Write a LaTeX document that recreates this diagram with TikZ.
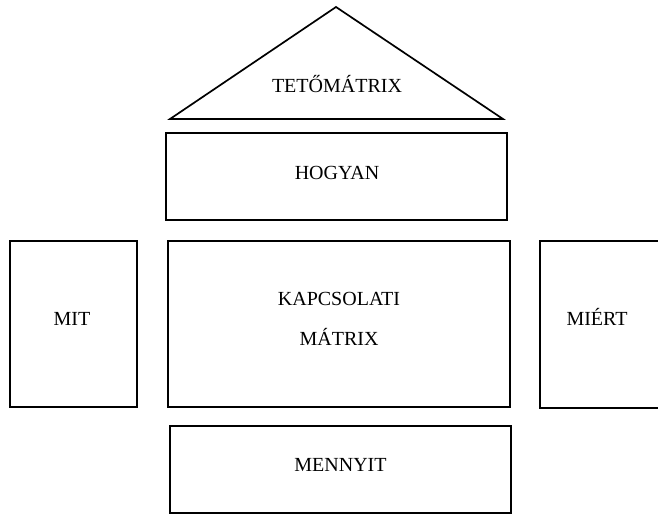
\documentclass[tikz,border=0pt]{standalone}
\usepackage{fontspec}
\setmainfont{Liberation Serif}
\tikzset{
    box/.style={draw, line width=1.7pt, inner sep=0pt},
    lbl/.style={font=\fontsize{20}{24}\selectfont, anchor=base, inner sep=0pt}
}
\begin{document}
\begin{tikzpicture}[x=1pt, y=-1pt]
            \clip (0,0) rectangle (658,515);
            \coordinate (T) at (336, 7);
            \coordinate (L) at (170, 119);
            \coordinate (R) at (503, 119);
            \draw[line width=1.7pt, line join=miter] (L) -- (T) -- (R) -- cycle;
            \node[lbl] (teto) at (337, 92.5) {TETŐMÁTRIX};
            \node[box, minimum width=341pt, minimum height=87pt] (hogyan) at (336.5, 176.5) {};
            \node[lbl] at (337, 179) {HOGYAN};
            \node[box, minimum width=127pt, minimum height=166pt] (mit) at (73.5, 324) {};
            \node[lbl] at (72, 325.5) {MIT};
            \node[box, minimum width=342pt, minimum height=166pt] (kapcs) at (339, 324) {};
            \node[lbl] at (339, 305) {KAPCSOLATI};
            \node[lbl] at (339, 345) {MÁTRIX};
            \node[box, minimum width=140pt, minimum height=167pt] (miert) at (610, 324.5) {};
            \node[lbl] at (597, 325.5) {MIÉRT};
            \node[box, minimum width=341pt, minimum height=87pt] (menny) at (340.5, 469.5) {};
            \node[lbl] at (340.5, 471) {MENNYIT};
\end{tikzpicture}
\end{document}
